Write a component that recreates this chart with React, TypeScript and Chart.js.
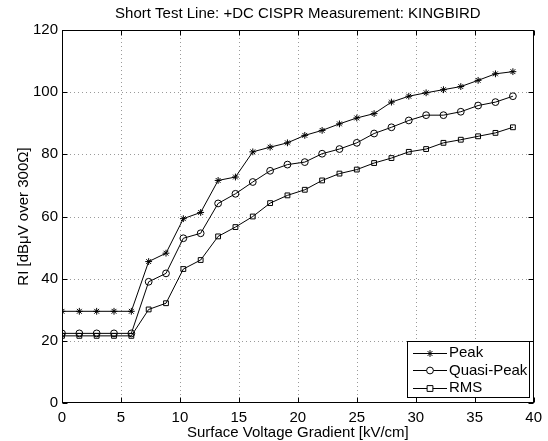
import React, { useEffect, useRef } from "react";
import { Chart, registerables } from "chart.js";

Chart.register(...registerables);

const xValues = [0, 1.47, 2.94, 4.41, 5.88, 7.35, 8.82, 10.29, 11.76, 13.24, 14.71, 16.18, 17.65, 19.12, 20.59, 22.06, 23.53, 25.0, 26.47, 27.94, 29.41, 30.88, 32.35, 33.82, 35.29, 36.76, 38.24];
const peak = [29.5, 29.5, 29.5, 29.5, 29.5, 45.5, 48.2, 59.3, 61.3, 71.6, 72.7, 80.8, 82.3, 83.7, 86.1, 87.7, 89.8, 91.7, 93.1, 96.8, 98.7, 99.8, 100.8, 101.8, 103.8, 105.9, 106.6];
const quasiPeak = [22.4, 22.4, 22.4, 22.4, 22.4, 39.0, 41.7, 53.0, 54.6, 64.2, 67.3, 71.1, 74.7, 76.7, 77.5, 80.2, 81.7, 83.7, 86.7, 88.7, 90.9, 92.6, 92.6, 93.7, 95.7, 96.8, 98.7];
const rms = [21.6, 21.6, 21.6, 21.6, 21.6, 30.1, 32.1, 43.1, 46.0, 53.6, 56.6, 60.0, 64.3, 66.8, 68.6, 71.6, 73.8, 75.1, 77.2, 78.8, 80.8, 81.7, 83.7, 84.7, 85.8, 86.9, 88.7];
const seriesNames = ["Peak", "Quasi-Peak", "RMS"];
const xTicks = [0, 5, 10, 15, 20, 25, 30, 35, 40];
const yTicks = [0, 20, 40, 60, 80, 100, 120];
const title = "Short Test Line: +DC CISPR Measurement: KINGBIRD";
const xTitle = "Surface Voltage Gradient [kV/cm]";
const yTitle = "RI [dBμV over 300Ω]";

const FONT = "'Liberation Sans', Arial, sans-serif";
const FS = 15;
const styles: any[] = ["star", "circle", "rect"];

function drawMarker(ctx: CanvasRenderingContext2D, style: string, x: number, y: number) {
  ctx.save();
  ctx.strokeStyle = "#000";
  ctx.fillStyle = "#fff";
  ctx.lineWidth = 1;
  const r = 3.4;
  ctx.beginPath();
  if (style === "circle") {
    ctx.arc(x, y, r, 0, Math.PI * 2);
    ctx.fill();
    ctx.stroke();
  } else if (style === "rect") {
    const s = r * Math.SQRT1_2 + 0.5;
    ctx.rect(x - s, y - s, 2 * s, 2 * s);
    ctx.fill();
    ctx.stroke();
  } else {
    for (let k = 0; k < 4; k++) {
      const ang = (k * Math.PI) / 4;
      ctx.moveTo(x - Math.cos(ang) * r, y - Math.sin(ang) * r);
      ctx.lineTo(x + Math.cos(ang) * r, y + Math.sin(ang) * r);
    }
    ctx.stroke();
  }
  ctx.restore();
}

const decor = {
  id: "matlabDecor",
  beforeDatasetsDraw(chart: any) {
    const { ctx, chartArea: a, scales } = chart;
    const xs = scales.x, ys = scales.y;
    ctx.save();
    ctx.strokeStyle = "#9a9a9a";
    ctx.lineWidth = 1;
    ctx.setLineDash([1, 3]);
    xTicks.forEach((t) => {
      if (t === xTicks[0] || t === xTicks[xTicks.length - 1]) return;
      const px = Math.round(xs.getPixelForValue(t)) + 0.5;
      ctx.beginPath();
      ctx.moveTo(px, a.top);
      ctx.lineTo(px, a.bottom);
      ctx.stroke();
    });
    yTicks.forEach((t) => {
      if (t === yTicks[0] || t === yTicks[yTicks.length - 1]) return;
      const py = Math.round(ys.getPixelForValue(t)) + 0.5;
      ctx.beginPath();
      ctx.moveTo(a.left, py);
      ctx.lineTo(a.right, py);
      ctx.stroke();
    });
    ctx.restore();
  },
  afterDraw(chart: any) {
    const { ctx, chartArea: a, scales } = chart;
    const xs = scales.x, ys = scales.y;
    ctx.save();
    ctx.strokeStyle = "#000";
    ctx.lineWidth = 1;
    ctx.setLineDash([]);
    const L = Math.round(a.left) + 0.5, R = Math.round(a.right) - 0.5;
    const T = Math.round(a.top) + 0.5, B = Math.round(a.bottom) - 0.5;
    ctx.strokeRect(L, T, R - L, B - T);
    const tl = 5;
    xTicks.forEach((t) => {
      const px = Math.round(xs.getPixelForValue(t)) + 0.5;
      ctx.beginPath();
      ctx.moveTo(px, B); ctx.lineTo(px, B - tl);
      ctx.moveTo(px, T); ctx.lineTo(px, T + tl);
      ctx.stroke();
    });
    yTicks.forEach((t) => {
      const py = Math.round(ys.getPixelForValue(t)) + 0.5;
      ctx.beginPath();
      ctx.moveTo(L, py); ctx.lineTo(L + tl, py);
      ctx.moveTo(R, py); ctx.lineTo(R - tl, py);
      ctx.stroke();
    });

    // titles
    ctx.fillStyle = "#000";
    ctx.font = `${FS}px ${FONT}`;
    ctx.textAlign = "center";
    ctx.textBaseline = "middle";
    ctx.fillText(title, (a.left + a.right) / 2, 14);
    ctx.fillText(xTitle, (a.left + a.right) / 2, 433);
    ctx.save();
    ctx.translate(24, (a.top + a.bottom) / 2);
    ctx.rotate(-Math.PI / 2);
    ctx.fillText(yTitle, 0, 0);
    ctx.restore();

    // legend
    const lx = 407.5, ly = 341.5, lw = 122, lh = 56;
    ctx.fillStyle = "#fff";
    ctx.fillRect(lx, ly, lw, lh);
    ctx.strokeStyle = "#000";
    ctx.strokeRect(lx, ly, lw, lh);
    const rows = [352.5, 370, 387.5];
    seriesNames.forEach((name, i) => {
      const y = rows[i];
      ctx.beginPath();
      ctx.moveTo(413, Math.round(y) + 0.5);
      ctx.lineTo(447, Math.round(y) + 0.5);
      ctx.strokeStyle = "#000";
      ctx.lineWidth = 1;
      ctx.stroke();
      drawMarker(ctx, styles[i], 430, Math.round(y) + 0.5);
      ctx.fillStyle = "#000";
      ctx.textAlign = "left";
      ctx.textBaseline = "middle";
      ctx.font = `${FS}px ${FONT}`;
      ctx.fillText(name, 449, y + 0.5);
    });
    ctx.restore();
  },
};

export default function App() {
  const ref = useRef<HTMLCanvasElement>(null);
  useEffect(() => {
    if (!ref.current) return;
    const mk = (arr: number[]) => arr.map((v, i) => ({ x: xValues[i], y: v }));
    const ds = [peak, quasiPeak, rms].map((arr, i) => ({
      label: seriesNames[i],
      data: mk(arr),
      borderColor: "#000",
      borderWidth: 1,
      backgroundColor: "rgba(255,255,255,0)",
      pointStyle: styles[i],
      pointRadius: 3.4,
      pointBorderWidth: 1,
      pointBorderColor: "#000",
      pointBackgroundColor: "rgba(255,255,255,0)",
      showLine: true,
      tension: 0,
    }));
    const chart = new Chart(ref.current, {
      type: "scatter",
      data: { datasets: ds as any },
      options: {
        responsive: false,
        animation: false,
        layout: { padding: { top: 30, right: 13, left: 0, bottom: 0 } },
        plugins: { legend: { display: false }, title: { display: false }, tooltip: { enabled: false } },
        scales: {
          x: {
            type: "linear",
            min: 0,
            max: 40,
            afterBuildTicks: (s: any) => { s.ticks = xTicks.map((v) => ({ value: v })); },
            afterFit: (s: any) => { s.height = 38; },
            grid: { display: false, drawTicks: false },
            border: { display: false },
            ticks: { color: "#000", font: { family: FONT, size: FS }, padding: 6, maxRotation: 0, autoSkip: false },
          },
          y: {
            type: "linear",
            min: 0,
            max: 120,
            afterBuildTicks: (s: any) => { s.ticks = yTicks.map((v) => ({ value: v })); },
            afterFit: (s: any) => { s.width = 62; },
            grid: { display: false, drawTicks: false },
            border: { display: false },
            ticks: { color: "#000", font: { family: FONT, size: FS }, padding: 4, autoSkip: false },
          },
        },
      },
      plugins: [decor],
    });
    return () => chart.destroy();
  }, []);
  return (
    <div style={{ position: "fixed", left: 0, top: 0, width: 548, height: 441, background: "#fff" }}>
      <canvas ref={ref} width={548} height={441} style={{ display: "block" }} />
    </div>
  );
}
